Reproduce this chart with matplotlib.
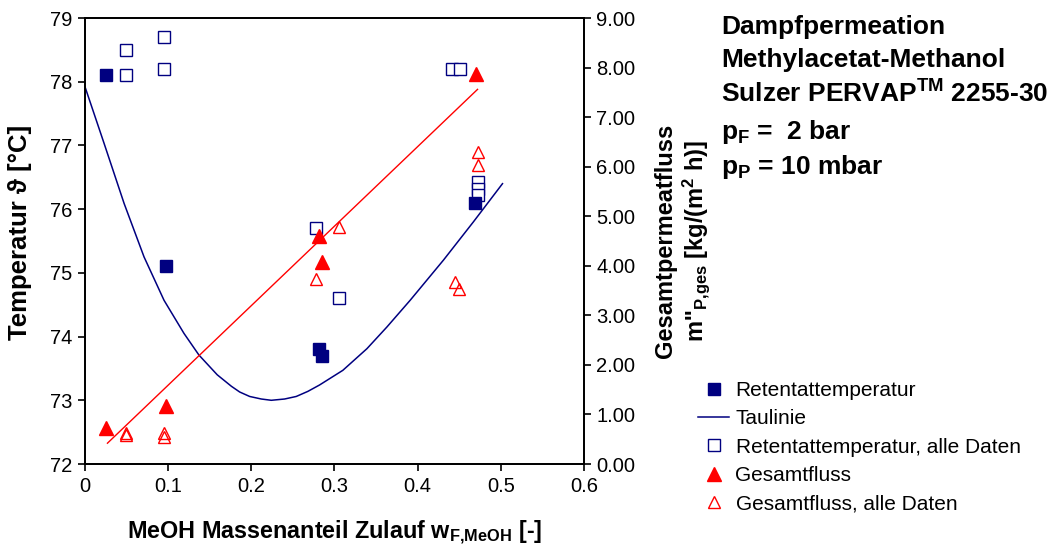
import matplotlib
matplotlib.use("Agg")
import matplotlib.pyplot as plt
from matplotlib.ticker import FormatStrFormatter

plt.rcParams['font.family'] = ['Liberation Sans', 'DejaVu Sans']
plt.rcParams['mathtext.fontset'] = 'custom'
plt.rcParams['mathtext.rm'] = 'Liberation Sans:bold'
plt.rcParams['mathtext.it'] = 'Liberation Sans:bold'
plt.rcParams['mathtext.bf'] = 'Liberation Sans:bold'
plt.rcParams['mathtext.default'] = 'rm'

# Retentattemperatur (gefuellt) und alle Daten (offen)
ret_x = [0.025, 0.097, 0.281, 0.285, 0.469]
ret_y = [78.1, 75.1, 73.8, 73.7, 76.1]
all_ret_x = [0.049, 0.049, 0.095, 0.095, 0.278, 0.305, 0.441, 0.451, 0.472, 0.472, 0.472]
all_ret_y = [78.5, 78.1, 78.7, 78.2, 75.7, 74.6, 78.2, 78.2, 76.43, 76.32, 76.22]

# Gesamtfluss (rechte Achse)
flux_x = [0.025, 0.097, 0.281, 0.285, 0.47]
flux_y = [0.72, 1.17, 4.6, 4.07, 7.88]
all_flux_x = [0.049, 0.049, 0.095, 0.095, 0.278, 0.306, 0.445, 0.45, 0.472, 0.472]
all_flux_y = [0.63, 0.58, 0.63, 0.55, 3.73, 4.78, 3.67, 3.53, 6.29, 6.03]

# lineare Regression Gesamtfluss
fit_x = [0.027, 0.472]
fit_y = [0.42, 7.56]

# Taulinie
dew_x = [0.0, 0.023, 0.047, 0.071, 0.095, 0.119, 0.137, 0.159, 0.176, 0.186, 0.198,
         0.212, 0.224, 0.240, 0.254, 0.268, 0.282, 0.310, 0.339, 0.363, 0.391,
         0.431, 0.467, 0.502]
dew_y = [77.92, 77.03, 76.09, 75.25, 74.57, 74.05, 73.71, 73.40, 73.22, 73.13, 73.06,
         73.02, 73.0, 73.02, 73.06, 73.14, 73.24, 73.47, 73.81, 74.15, 74.57,
         75.2, 75.8, 76.4]

x_ticks = [0, 0.1, 0.2, 0.3, 0.4, 0.5, 0.6]
x_ticklabels = ['0', '0.1', '0.2', '0.3', '0.4', '0.5', '0.6']

navy = '#000080'
red = '#FF0000'

fig = plt.figure(figsize=(10.55, 5.46), dpi=100)
ax = fig.add_axes([85/1055, 1-464/546, (584-85)/1055, (464-18)/546])
ax2 = ax.twinx()

h_dew, = ax.plot(dew_x, dew_y, color=navy, lw=1.1, label='Taulinie')
h_allret, = ax.plot(all_ret_x, all_ret_y, 's', ms=8.5, mfc='white', mec=navy, mew=1.0,
                    ls='none', label='Retentattemperatur, alle Daten')
h_ret, = ax.plot(ret_x, ret_y, 's', ms=8.5, color=navy, ls='none', label='Retentattemperatur')

ax2.plot(fit_x, fit_y, color=red, lw=1.0)
h_allflux, = ax2.plot(all_flux_x, all_flux_y, '^', ms=9, mfc='none', mec=red, mew=1.0,
                      ls='none', label='Gesamtfluss, alle Daten')
h_flux, = ax2.plot(flux_x, flux_y, '^', ms=9.5, color=red, ls='none', label='Gesamtfluss')

ax.set_xlim(0, 0.6)
ax.set_ylim(72, 79)
ax2.set_ylim(0, 9)
ax.set_xticks(x_ticks)
ax.set_xticklabels(x_ticklabels)
ax.set_yticks(range(72, 80))
ax2.set_yticks(range(0, 10))
ax2.yaxis.set_major_formatter(FormatStrFormatter('%.2f'))

for a in (ax, ax2):
    a.tick_params(direction='out', length=5, width=1.2, labelsize=14.5, pad=4)
    for s in a.spines.values():
        s.set_linewidth(1.3)

ax.set_ylabel('Temperatur ϑ [°C]', fontsize=18.5, fontweight='bold')
ax.yaxis.set_label_coords(-0.106, 0.52)
ax2.set_ylabel("Gesamtpermeatfluss\nm''$_{P{,}ges}$ [kg/(m$^2$ h)]", fontsize=17,
               fontweight='bold', linespacing=1.15)
ax2.yaxis.set_label_coords(1.14, 0.5)
ax.set_xlabel('MeOH Massenanteil Zulauf w$_{F{,}MeOH}$ [-]', fontsize=16.8, fontweight='bold')
ax.xaxis.set_label_coords(0.5, -0.168)
ax.xaxis.label.set_va('baseline')

title_lines = ['Dampfpermeation',
               'Methylacetat-Methanol',
               'Sulzer PERVAP$^{TM}$ 2255-30',
               'p$_F$ =  2 bar',
               'p$_P$ = 10 mbar']
baselines = [34, 67, 103, 139, 174]
for line, b in zip(title_lines, baselines):
    fig.text(721/1055, 1 - b/546, line, fontsize=19, fontweight='bold',
             ha='left', va='baseline')

fig.legend([h_ret, h_dew, h_allret, h_flux, h_allflux],
           ['Retentattemperatur', 'Taulinie', 'Retentattemperatur, alle Daten',
            'Gesamtfluss', 'Gesamtfluss, alle Daten'],
           loc='upper left', bbox_to_anchor=(698/1055, 1 - 381/546),
           frameon=False, fontsize=15, handlelength=1.5, handletextpad=0.3,
           labelspacing=0.45, borderpad=0, borderaxespad=0)

fig.savefig('out.png', dpi=100)
